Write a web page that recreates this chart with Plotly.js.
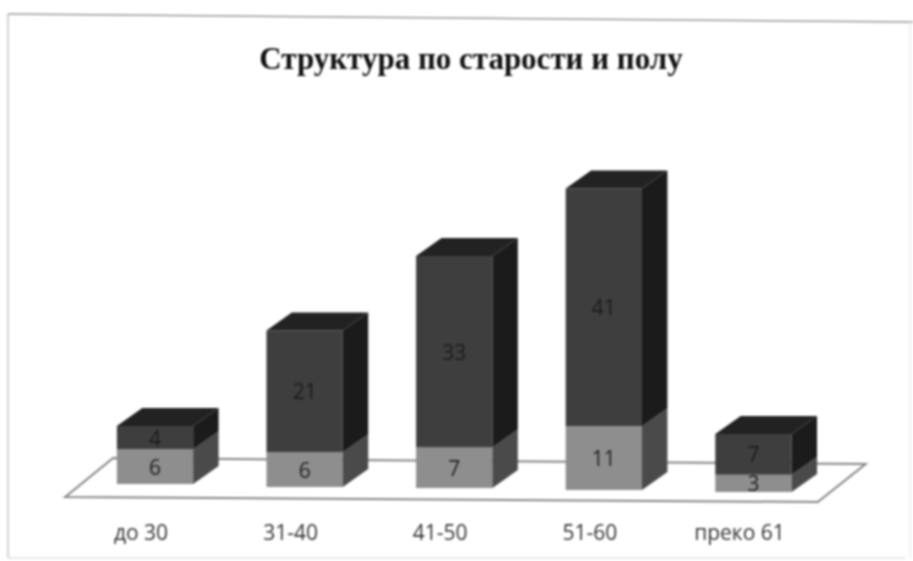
<!DOCTYPE html>
<html>
<head>
<meta charset="utf-8">
<script src="https://cdn.plot.ly/plotly-3.0.1.min.js"></script>
<style>
html,body{margin:0;padding:0;background:#fff;overflow:hidden}
#chart{width:913px;height:561px;filter:blur(1px)}
</style>
</head>
<body>
<div id="chart"></div>
<script>
const categories = ["до 30", "31-40", "41-50", "51-60", "преко 61"];
const lowerValues = [6, 6, 7, 11, 3];
const upperValues = [4, 21, 33, 41, 7];
const titleText = "Структура по старости и полу";

// Perspective settings of the pseudo-3D drawing
const baseShift = [0.7, 0.17, 0, -0.35, -0.7];
const barWidth = 0.51, depthX = 0.17, depthY = 3.1;

const xs = categories.map((_, i) => i);
const lowerTop = lowerValues.map((v, i) => baseShift[i] + v);
const upperTop = upperValues.map((v, i) => lowerTop[i] + v);

function sideFace(bottom, top) {
  const x = [], y = [];
  xs.forEach(i => {
    const r = i + barWidth / 2;
    x.push(r, r + depthX, r + depthX, r, null);
    y.push(bottom[i], bottom[i] + depthY, top[i] + depthY, top[i], null);
  });
  return {x, y};
}
function topFace(top) {
  const x = [], y = [];
  xs.forEach(i => {
    const l = i - barWidth / 2, r = i + barWidth / 2;
    x.push(l, r, r + depthX, l + depthX, null);
    y.push(top[i], top[i], top[i] + depthY, top[i] + depthY, null);
  });
  return {x, y};
}
const poly = (f, color) => ({type: "scatter", mode: "lines", x: f.x, y: f.y, fill: "toself",
  fillcolor: color, line: {width: 0, color: color}, hoverinfo: "skip", showlegend: false});
const front = (base, vals, color, textColor) => ({type: "bar", x: xs, y: vals, base: base, width: barWidth,
  marker: {color: color, line: {width: 0}}, text: vals.map(String), textposition: "inside",
  insidetextanchor: "middle", textangle: 0, constraintext: "none",
  textfont: {family: "Open Sans, sans-serif", size: 21, color: textColor},
  hoverinfo: "skip", showlegend: false});

const data = [
  front(baseShift, lowerValues, "#8e8e8e", "#222222"),
  front(lowerTop, upperValues, "#3e3e3e", "#1c1c1c"),
  poly(sideFace(baseShift, lowerTop), "#4a4a4a"),
  poly(sideFace(lowerTop, upperTop), "#1b1b1b"),
  poly(topFace(upperTop), "#222222")
];

const L = 50, R = 880, T = 100, B = 510;
const px = v => (v - L) / (R - L), py = v => (B - v) / (B - T);
const frameLine = (x0, y0, x1, y1, c) => ({type: "line", xref: "paper", yref: "paper",
  x0: px(x0), y0: py(y0), x1: px(x1), y1: py(y1), line: {color: c, width: 1.5}, layer: "below"});

const layout = {
  width: 913, height: 561, autosize: false,
  paper_bgcolor: "#ffffff", plot_bgcolor: "rgba(0,0,0,0)",
  margin: {l: L, r: 913 - R, t: T, b: 561 - B, pad: 0},
  barmode: "overlay", showlegend: false,
  title: {text: "<b>" + titleText + "</b>", x: 471 / 913, xanchor: "center", y: 1 - 58 / 561, yanchor: "middle",
    font: {family: "Liberation Serif, serif", size: 31, color: "#111111"}},
  xaxis: {range: [-0.702, 4.846], tickmode: "array", tickvals: xs, ticktext: categories,
    showgrid: false, zeroline: false, showline: false, ticks: "", ticklabelstandoff: 8, ticklabelshift: -14,
    tickfont: {family: "Open Sans, sans-serif", size: 21, color: "#333333"}, fixedrange: true},
  yaxis: {range: [-3.79, 66.9], visible: false, showgrid: false, zeroline: false, fixedrange: true},
  shapes: [
    {type: "path", xref: "x", yref: "y", layer: "below",
     path: "M -0.60 -1.55 L 4.43 -2.41 L 4.75 4.14 L -0.28 5.17 Z",
     fillcolor: "#ffffff", line: {color: "#858585", width: 2}},
    frameLine(8, 14, 913, 22, "#999999"),
    frameLine(8, 14, 8, 558, "#c4c4c4"),
    frameLine(8, 558, 905, 558, "#e2e2e2"),
    frameLine(910, 22, 910, 558, "#ececec")
  ]
};
Plotly.newPlot("chart", data, layout, {displayModeBar: false, staticPlot: true});
</script>
</body>
</html>
